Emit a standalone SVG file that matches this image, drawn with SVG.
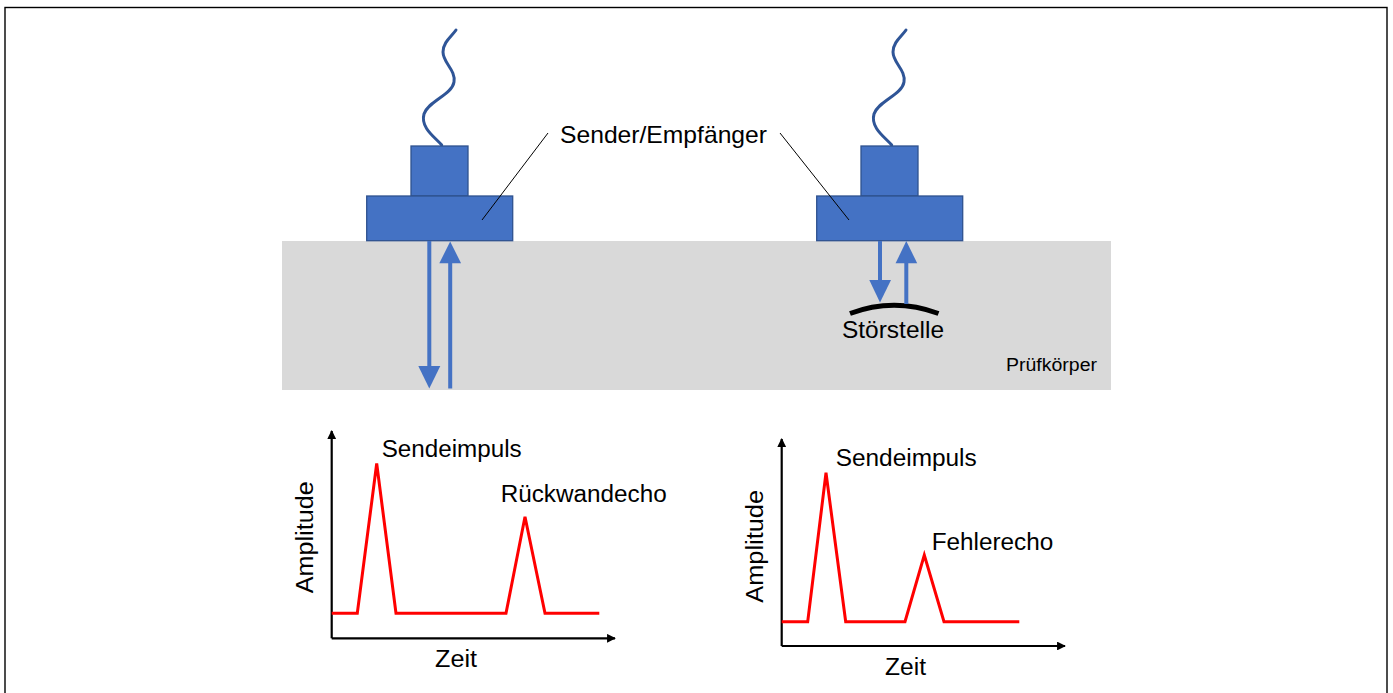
<svg xmlns="http://www.w3.org/2000/svg" width="1393" height="693" viewBox="0 0 1393 693">
<defs>
<style>
.txt{font-family:"Liberation Sans",Arial,sans-serif;fill:#000}
.big{font-size:23px}
.lbl{font-size:24px}
.small{font-size:18px}
.tb{fill:#4472C4;stroke:#2F528F;stroke-width:1.3}
.wire{fill:none;stroke:#2F5597;stroke-width:3;stroke-linecap:round}
.beam{stroke:#4472C4;stroke-width:4;fill:none}
.head{fill:#4472C4}
.lead{stroke:#000;stroke-width:1;fill:none}
.axis{stroke:#000;stroke-width:2.2;fill:none}
.sig{stroke:#FF0000;stroke-width:3;fill:none;stroke-linejoin:miter}
</style>
<marker id="ah" viewBox="0 0 10 10" refX="9" refY="5" markerWidth="4" markerHeight="4" orient="auto" markerUnits="strokeWidth">
<path d="M0,0 L10,5 L0,10 Z" fill="#000"/>
</marker>
</defs>
<rect x="5" y="7.5" width="1382" height="700" fill="#fff" stroke="#000" stroke-width="1.4"/>
<g id="pruefkoerper">
<rect x="282" y="241" width="829" height="149" fill="#D9D9D9"/>
<text class="txt small" x="1006" y="371" textLength="91" lengthAdjust="spacingAndGlyphs">Prüfkörper</text>
</g>
<g id="transducer-left">
<path class="wire" d="M441.7,145 C436,138 420,128 424,114 C428,101 452,95 454,82 C456,70 443,63 443,52 C443,42 452,36 456,30"/>
<rect class="tb" x="411" y="146" width="57" height="50"/>
<rect class="tb" x="366.7" y="196" width="146" height="44.7"/>
</g>
<g id="transducer-right">
<path class="wire" d="M891.7,145 C886,138 870,128 874,114 C878,101 902,95 904,82 C906,70 893,63 893,52 C893,42 902,36 906,30"/>
<rect class="tb" x="861" y="146" width="57" height="50"/>
<rect class="tb" x="816.7" y="196" width="146" height="44.7"/>
</g>
<g id="label-sender">
<text class="txt lbl" x="560" y="143" textLength="207" lengthAdjust="spacingAndGlyphs">Sender/Empfänger</text>
</g>
<g id="stoerstelle">
<path d="M850,313.5 Q894,297 938.5,313.5" stroke="#000" stroke-width="5" fill="none"/>
<text class="txt lbl" x="842" y="338" textLength="102" lengthAdjust="spacingAndGlyphs">Störstelle</text>
</g>
<g id="connectors">
<line class="lead" x1="548" y1="133" x2="482" y2="220"/>
<line class="lead" x1="780" y1="133" x2="849" y2="220"/>
<line class="beam" x1="429.3" y1="241" x2="429.3" y2="368"/>
<polygon class="head" points="418.3,366 440.3,366 429.3,388.5"/>
<line class="beam" x1="450.2" y1="261" x2="450.2" y2="388.5"/>
<polygon class="head" points="439.3,263.3 461.1,263.3 450.2,241.5"/>
<line class="beam" x1="880" y1="241" x2="880" y2="282"/>
<polygon class="head" points="869.3,280 891,280 880,302.5"/>
<line class="beam" x1="906.3" y1="261" x2="906.3" y2="304"/>
<polygon class="head" points="895.6,263.3 917.2,263.3 906.3,241"/>
</g>
<g id="chart-left">
<path class="axis" d="M331.7,638.3 L331.7,431" marker-end="url(#ah)"/>
<path class="axis" d="M331.7,638.3 L615,638.3" marker-end="url(#ah)"/>
<polyline class="sig" points="331.7,613.3 357.3,613.3 376.7,463.5 396,613.3 506,613.3 525,516.8 545,613.3 599.3,613.3"/>
<text class="txt big" x="381.7" y="457.3" textLength="140" lengthAdjust="spacingAndGlyphs">Sendeimpuls</text>
<text class="txt big" x="500.7" y="501.7" textLength="166" lengthAdjust="spacingAndGlyphs">Rückwandecho</text>
<text class="txt big" transform="translate(313.3,593.3) rotate(-90)" textLength="112" lengthAdjust="spacingAndGlyphs">Amplitude</text>
<text class="txt big" x="435" y="666.7" textLength="42" lengthAdjust="spacingAndGlyphs">Zeit</text>
</g>
<g id="chart-right">
<path class="axis" d="M781.7,646 L781.7,439" marker-end="url(#ah)"/>
<path class="axis" d="M781.7,646 L1065,646" marker-end="url(#ah)"/>
<polyline class="sig" points="781.7,621.7 807.7,621.7 826,472.8 845.7,621.7 905,621.7 924.3,555 944,621.7 1019.3,621.7"/>
<text class="txt big" x="835.7" y="466" textLength="141" lengthAdjust="spacingAndGlyphs">Sendeimpuls</text>
<text class="txt big" x="931.7" y="550" textLength="121.6" lengthAdjust="spacingAndGlyphs">Fehlerecho</text>
<text class="txt big" transform="translate(762.7,602.7) rotate(-90)" textLength="112.7" lengthAdjust="spacingAndGlyphs">Amplitude</text>
<text class="txt big" x="885" y="675" textLength="41" lengthAdjust="spacingAndGlyphs">Zeit</text>
</g>
</svg>
